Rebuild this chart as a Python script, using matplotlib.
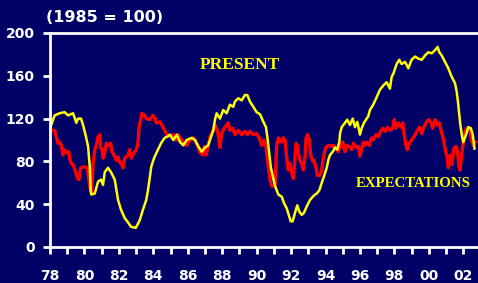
import matplotlib.pyplot as plt
import matplotlib.ticker as ticker

# Present situation index (1985 = 100)
present_year = [
    78.0, 78.27, 78.56, 78.85, 79.05, 79.34, 79.53, 79.63, 79.8, 79.92,
    80.09, 80.21, 80.31, 80.36, 80.4, 80.6, 80.79, 80.96, 81.08, 81.18,
    81.37, 81.54, 81.76, 81.95, 82.12, 82.34, 82.53, 82.7, 82.92, 82.99,
    83.21, 83.4, 83.59, 83.69, 83.88, 84.04, 84.27, 84.45, 84.66, 84.79,
    84.97, 85.16, 85.36, 85.55, 85.74, 85.94, 86.23, 86.42, 86.61, 86.81,
    87.0, 87.19, 87.33, 87.48, 87.58, 87.68, 87.87, 88.06, 88.26, 88.45,
    88.64, 88.74, 88.94, 89.13, 89.32, 89.46, 89.61, 89.81, 90.0, 90.2,
    90.39, 90.54, 90.62, 90.72, 90.82, 90.91, 91.07, 91.26, 91.46, 91.59,
    91.75, 91.9, 91.98, 92.09, 92.23, 92.36, 92.48, 92.62, 92.75, 92.91,
    93.1, 93.26, 93.39, 93.49, 93.64, 93.78, 93.91, 94.07, 94.16, 94.26,
    94.42, 94.55, 94.68, 94.8, 94.84, 94.94, 95.13, 95.26, 95.42, 95.58,
    95.71, 95.85, 96.0, 96.1, 96.23, 96.39, 96.48, 96.58, 96.77, 96.97,
    97.16, 97.36, 97.55, 97.74, 97.84, 97.94, 98.13, 98.28, 98.42, 98.62,
    98.81, 99.0, 99.2, 99.39, 99.59, 99.78, 99.97, 100.17, 100.36, 100.51,
    100.61, 100.75, 100.94, 101.13, 101.33, 101.52, 101.62, 101.71, 101.81, 101.91,
    102.0, 102.16, 102.29, 102.44, 102.55, 102.65,
]
present_value = [
    111, 123, 125, 126, 123, 125, 116, 120, 120, 114,
    103, 94, 75, 53, 49, 50, 61, 63, 58, 70,
    74, 70, 63, 44, 35, 27, 23, 19, 18, 18,
    25, 35, 44, 53, 75, 83, 91, 97, 102, 103,
    105, 100, 105, 98, 95, 100, 102, 100, 94, 89,
    93, 95, 102, 109, 119, 125, 120, 128, 125, 133,
    131, 136, 139, 137, 142, 142, 136, 131, 126, 124,
    117, 112, 103, 89, 75, 68, 57, 49, 47, 41,
    36, 28, 24, 24, 32, 39, 33, 30, 32, 38,
    44, 47, 49, 50, 53, 60, 66, 74, 81, 86,
    89, 93, 91, 98, 106, 112, 116, 119, 114, 120,
    112, 117, 105, 111, 116, 120, 122, 128, 133, 140,
    147, 151, 154, 148, 159, 162, 171, 175, 171, 173,
    167, 175, 178, 176, 175, 179, 182, 181, 184, 187,
    182, 179, 173, 167, 159, 153, 145, 133, 117, 105,
    98, 105, 112, 111, 105, 92,
]

# Expectations index (1985 = 100)
expect_year = [
    78.0, 78.08, 78.27, 78.31, 78.37, 78.46, 78.56, 78.66, 78.75, 78.85,
    78.95, 79.09, 79.14, 79.24, 79.34, 79.49, 79.59, 79.68, 79.78, 79.97,
    80.17, 80.22, 80.31, 80.36, 80.4, 80.46, 80.5, 80.6, 80.69, 80.79,
    80.89, 80.94, 81.02, 81.08, 81.18, 81.27, 81.41, 81.52, 81.6, 81.72,
    81.85, 81.95, 82.05, 82.14, 82.24, 82.34, 82.53, 82.63, 82.72, 82.88,
    83.01, 83.11, 83.17, 83.27, 83.34, 83.5, 83.59, 83.79, 83.98, 84.11,
    84.17, 84.39, 84.56, 84.75, 84.97, 85.16, 85.32, 85.45, 85.65, 85.74,
    85.94, 86.13, 86.32, 86.48, 86.61, 86.71, 86.87, 86.96, 87.06, 87.19,
    87.29, 87.45, 87.58, 87.68, 87.77, 87.87, 87.97, 88.16, 88.35, 88.45,
    88.61, 88.74, 88.94, 89.13, 89.32, 89.46, 89.61, 89.81, 90.0, 90.15,
    90.29, 90.43, 90.54, 90.68, 90.78, 90.87, 91.07, 91.12, 91.16, 91.26,
    91.45, 91.55, 91.65, 91.74, 91.84, 91.94, 92.04, 92.13, 92.19, 92.29,
    92.36, 92.42, 92.52, 92.62, 92.71, 92.81, 92.87, 92.96, 93.06, 93.14,
    93.26, 93.33, 93.45, 93.52, 93.68, 93.78, 93.84, 93.97, 94.07, 94.22,
    94.36, 94.45, 94.61, 94.74, 94.84, 95.0, 95.13, 95.26, 95.42, 95.52,
    95.62, 95.77, 95.9, 96.0, 96.1, 96.19, 96.29, 96.39, 96.54, 96.68,
    96.77, 96.93, 97.07, 97.2, 97.32, 97.45, 97.59, 97.74, 97.9, 97.99,
    98.09, 98.23, 98.37, 98.48, 98.57, 98.67, 98.75, 98.87, 99.0, 99.14,
    99.3, 99.45, 99.59, 99.68, 99.84, 99.97, 100.11, 100.22, 100.36, 100.49,
    100.61, 100.71, 100.84, 100.94, 101.07, 101.13, 101.23, 101.33, 101.46, 101.58,
    101.65, 101.75, 101.81, 101.91, 102.0, 102.1, 102.2, 102.35, 102.43, 102.51,
    102.59, 102.68,
]
expect_value = [
    111, 109, 109, 106, 103, 97, 98, 95, 86, 91,
    88, 89, 83, 78, 77, 70, 64, 63, 74, 75,
    74, 67, 56, 53, 51, 63, 78, 91, 95, 103,
    105, 93, 91, 83, 88, 97, 95, 97, 89, 86,
    81, 84, 79, 78, 74, 83, 86, 91, 83, 88,
    91, 97, 112, 119, 125, 123, 120, 119, 123, 120,
    116, 117, 112, 106, 103, 105, 100, 105, 100, 97,
    95, 100, 102, 98, 93, 88, 86, 94, 86, 95,
    103, 108, 114, 111, 105, 93, 106, 112, 116, 109,
    111, 105, 109, 105, 108, 105, 108, 105, 106, 102,
    95, 100, 94, 74, 63, 57, 57, 78, 94, 102,
    98, 102, 100, 84, 72, 78, 69, 64, 75, 97,
    95, 88, 81, 78, 72, 84, 102, 105, 100, 86,
    80, 81, 74, 67, 67, 72, 80, 91, 94, 95,
    94, 95, 93, 89, 93, 98, 89, 95, 93, 91,
    97, 93, 94, 85, 92, 98, 95, 98, 95, 102,
    100, 105, 103, 108, 111, 108, 112, 109, 111, 119,
    111, 116, 112, 116, 105, 95, 91, 97, 100, 103,
    108, 112, 106, 111, 116, 119, 117, 111, 119, 114,
    116, 109, 101, 92, 83, 74, 86, 77, 92, 94,
    91, 75, 72, 86, 98, 108, 111, 111, 105, 98,
    95, 98,
]

y_ticks = [0, 40, 80, 120, 160, 200]
x_major = list(range(78, 103, 2))

bg = "#000066"
fig = plt.figure(figsize=(4.78, 2.83), dpi=100, facecolor=bg)
ax = fig.add_axes([50 / 478, 36 / 283, 428 / 478, 214 / 283], facecolor=bg)

ax.plot(expect_year, expect_value, color="#ff0000", linewidth=2.4)
ax.plot(present_year, present_value, color="#ffff00", linewidth=1.8)

ax.set_xlim(78, 78 + 428 / 17.22)
ax.set_ylim(0, 200)

for side in ["left", "bottom", "top"]:
    ax.spines[side].set_color("white")
    ax.spines[side].set_linewidth(2)
ax.spines["right"].set_visible(False)

ax.set_yticks(y_ticks)
ax.set_xticks(x_major)
ax.xaxis.set_minor_locator(ticker.MultipleLocator(1))
ax.xaxis.set_major_formatter(ticker.FuncFormatter(lambda v, p: "%02d" % (int(round(v)) % 100)))
ax.tick_params(axis="both", which="both", colors="white", width=2, length=5, direction="out")
ax.tick_params(axis="x", which="major", pad=11, labelsize=10)
ax.tick_params(axis="y", pad=6, labelsize=10)
for lab in ax.get_xticklabels() + ax.get_yticklabels():
    lab.set_fontweight("bold")

fig.text(46 / 478, 1 - 17 / 283, "(1985 = 100)", color="white", fontsize=11.5,
         fontweight="bold", va="center", ha="left")

ax.text(89.0, 170, "PRESENT", color="#ffff00", fontsize=12.5, fontweight="bold",
        family="Liberation Serif", ha="center", va="center")
ax.text(95.75, 59, "EXPECTATIONS", color="#ffff00", fontsize=10.7, fontweight="bold",
        family="Liberation Serif", ha="left", va="center")

fig.savefig("out.png", dpi=100, facecolor=bg)
